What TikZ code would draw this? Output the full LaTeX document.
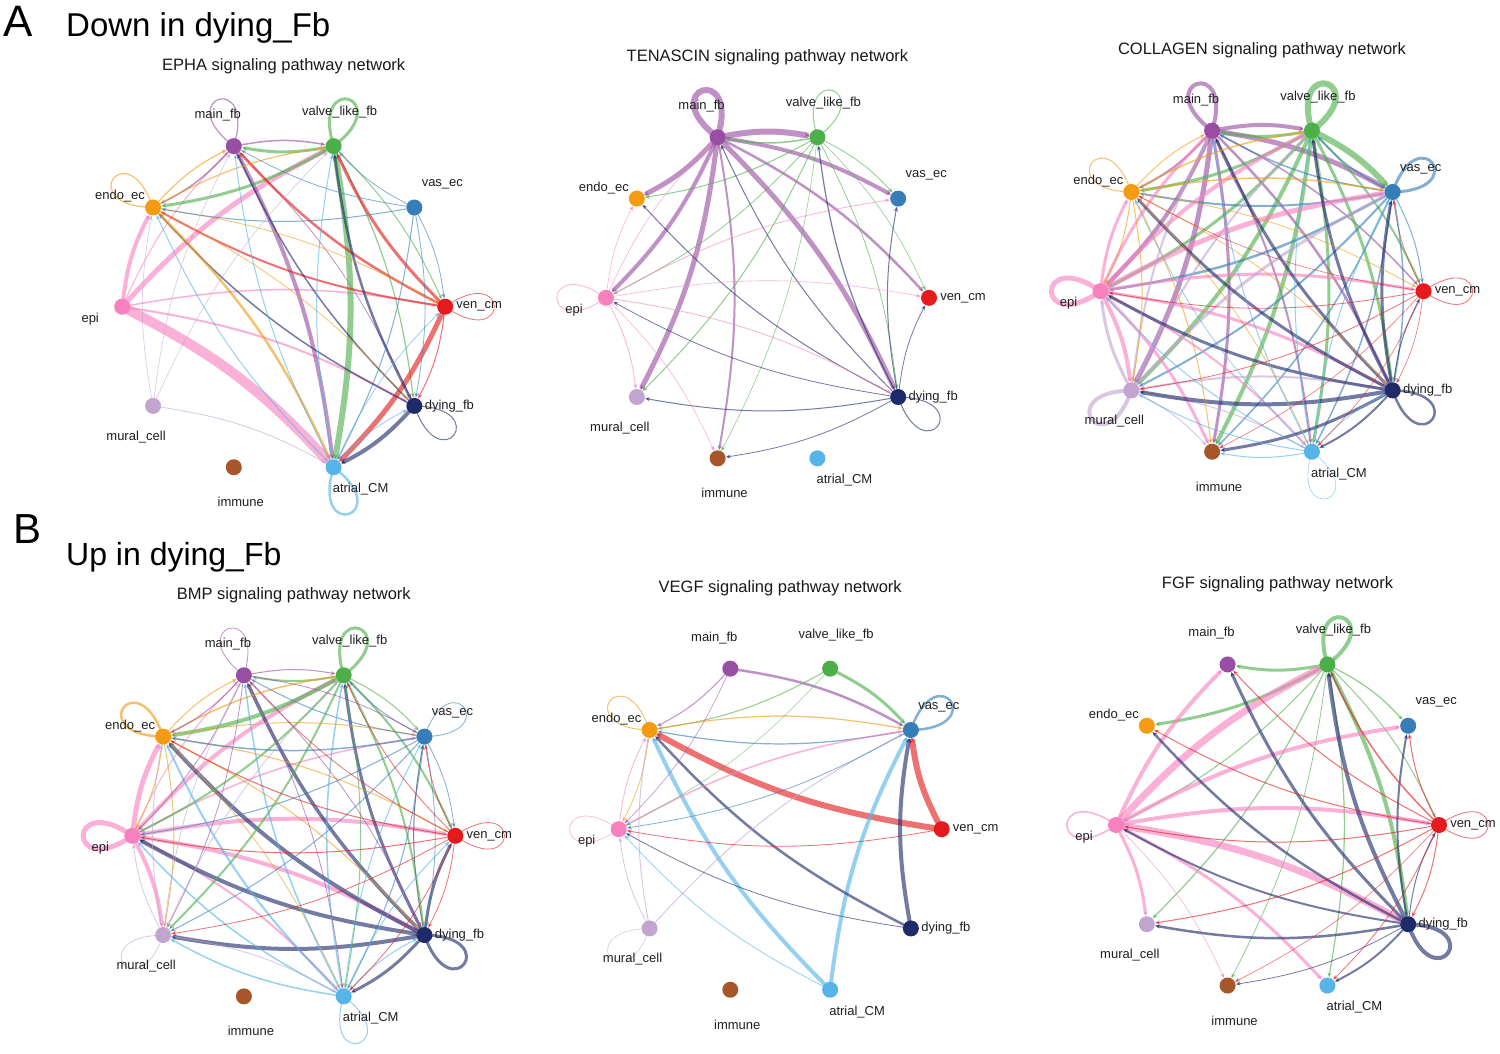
\documentclass[tikz,border=0pt]{standalone}
\usepackage{fontspec}
\setmainfont{Liberation Sans}
\usetikzlibrary{arrows.meta}
\pgfdeclarelayer{bg}
\pgfdeclarelayer{edges}
\pgfsetlayers{bg,edges,main}
\definecolor{cM}{HTML}{984EA3}
\definecolor{cV}{HTML}{4DAF4A}
\definecolor{cS}{HTML}{377EB8}
\definecolor{cR}{HTML}{E41A1C}
\definecolor{cD}{HTML}{1F2A6B}
\definecolor{cA}{HTML}{56B4E9}
\definecolor{cI}{HTML}{A65628}
\definecolor{cU}{HTML}{C2A5CF}
\definecolor{cP}{HTML}{F781BF}
\definecolor{cO}{HTML}{F29B13}
\tikzset{
  nd/.style={circle, minimum size=16pt, inner sep=0pt, draw=none},
  lab/.style={font=\fontsize{13}{15}\selectfont, text=black!88, inner sep=0pt},
  ttl/.style={font=\fontsize{16.5}{19}\selectfont, text=black!90, inner sep=0pt, anchor=base},
  big/.style={inner sep=0pt, anchor=base west, text=black},
  ed/.style={-{Stealth[length=5pt,width=4pt]}, bend left=10, opacity=0.62, line cap=round},
  lp/.style={opacity=0.62, line cap=round}
}
\newcommand\mkpanel[4]{%
  \node[ttl] (#1title) at (#2,{-#3+236.5}) {#4};
  \foreach \k/\ang/\dx/\dy/\txt in {R/0/34/0/ven\_cm,S/36/28/-23/vas\_ec,V/72/6/-34/valve\_like\_fb,M/108/-16/-31/main\_fb,O/144/-33/-11/endo\_ec,P/180/-32/12/epi,U/216/-17/31/mural\_cell,I/252/7/35/immune,A/288/27/22/atrial\_CM,D/324/35/0/dying\_fb}{%
    \node[nd, fill=c\k] (#1\k) at ({#2+161.5*cos(\ang)},{-#3+168.8*sin(\ang)}) {};
    \node[lab] (#1\k-l) at ({#2+161.5*cos(\ang)+(\dx)},{-#3+168.8*sin(\ang)-(\dy)}) {\txt};
  }}
\newcommand\mkedges[2]{%
  \begin{pgfonlayer}{edges}
  \foreach \s/\tg/\w in {#2}{%
    \draw[ed, draw=c\s, line width={\w*1pt}] (#1\s) to (#1\tg);
  }
  \end{pgfonlayer}}
\newcommand\mkloops[2]{%
  \begin{pgfonlayer}{edges}
  \foreach \s/\ang/\w in {#2}{%
    \draw[lp, draw=c\s, line width={\w*1pt}] (#1\s.center) .. controls +({\ang+35}:80) and +({\ang-35}:80) .. (#1\s.center);
  }
  \end{pgfonlayer}}
\begin{document}
\begin{tikzpicture}[x=1pt,y=1pt]
\begin{pgfonlayer}{bg}
\fill[white] (0,0) rectangle (1500,-1054);
\end{pgfonlayer}
\useasboundingbox (0,0) rectangle (1500,-1054);

\node[big, font=\fontsize{44}{50}\selectfont] (labA) at (3,-37) {A};
\node[big, font=\fontsize{33}{38}\selectfont] (hdA) at (66,-37) {Down in dying\_Fb};
\node[big, font=\fontsize{42}{48}\selectfont] (labB) at (13,-543) {B};
\node[big, font=\fontsize{32}{37}\selectfont] (hdB) at (66,-565) {Up in dying\_Fb};

% ---------------- panels ----------------
\mkpanel{a}{283.7}{306.7}{EPHA signaling pathway network}
\mkpanel{b}{767.5}{297.8}{TENASCIN signaling pathway network}
\mkpanel{c}{1262}{291.2}{COLLAGEN signaling pathway network}
\mkpanel{d}{293.8}{835.8}{BMP signaling pathway network}
\mkpanel{e}{780.2}{829.2}{VEGF signaling pathway network}
\mkpanel{f}{1277.5}{825}{FGF signaling pathway network}

% ---------------- EPHA ----------------
\mkloops{a}{M/108/1.2, V/72/3, O/144/1.2, R/0/0.8, D/324/1, A/288/2.5}
\mkedges{a}{P/A/10, P/V/5, P/O/4, P/M/1, P/R/1.5, P/D/2,
  M/V/1.5, M/A/4, M/D/0.8, M/O/1.5,
  V/M/3, V/O/3, V/A/6, V/R/1, V/D/1.2,
  R/M/2.5, R/V/3, R/O/2, R/A/5, R/D/1,
  D/A/4, D/O/1.5, D/V/2.5, D/M/1.5,
  O/M/1.2, O/V/1.2, O/A/2.5, O/R/0.8, O/D/0.8,
  S/O/1, S/M/0.8, S/V/0.8, S/A/1, S/R/0.8, S/D/0.8,
  A/O/1, A/M/1, A/V/1, A/R/0.8, A/D/0.8,
  U/O/0.6, U/M/0.6, U/V/0.6, U/A/0.8}

% ---------------- TENASCIN ----------------
\mkloops{b}{M/108/6, V/72/1, P/180/0.8, D/324/1}
\mkedges{b}{M/V/6, M/O/5, M/P/4, M/U/5, M/I/2, M/D/5, M/S/4, M/R/2.5,
  V/M/1.5, V/O/1, V/P/0.8, V/U/1, V/I/0.6, V/S/0.8, V/R/0.6, V/D/0.8,
  D/M/1, D/V/1.2, D/S/1, D/R/0.8, D/O/1, D/P/0.8, D/U/1, D/I/0.8,
  P/S/0.8, P/R/0.6, P/D/0.8, P/O/0.6, P/U/0.8, P/I/0.6, P/M/0.6}

% ---------------- COLLAGEN ----------------
\mkloops{c}{M/108/4, V/72/6, S/36/3, P/180/5, U/216/4, D/324/2.5, R/0/0.8, O/144/1, A/288/0.6}
\mkedges{c}{M/V/4, M/S/5, M/P/4, M/U/5, M/I/3, M/A/2, M/D/2.5, M/R/1.5, M/O/2,
  V/M/3, V/S/6, V/P/3, V/U/4, V/I/4, V/A/3, V/D/3, V/R/2, V/O/3,
  S/M/1.5, S/V/1.5, S/O/2, S/P/2.5, S/U/2, S/I/1.5, S/A/1.5, S/D/1.5, S/R/1,
  P/S/5, P/V/4, P/M/3, P/R/3, P/D/3, P/U/4, P/I/3, P/A/2, P/O/3,
  U/P/3, U/S/3, U/M/2, U/V/2, U/D/2, U/A/1, U/I/1,
  D/M/3, D/V/3, D/S/3, D/P/3, D/U/4, D/I/3, D/A/2, D/O/3, D/R/1,
  O/M/1, O/V/1.5, O/S/1.5, O/P/1, O/U/1, O/I/1, O/A/0.8, O/D/0.8, O/R/0.8,
  A/M/1, A/V/1, A/S/1, A/P/1, A/U/1, A/I/1, A/D/0.8, A/O/0.8,
  R/P/0.8, R/U/0.8, R/I/0.6, R/A/0.6, R/D/0.6, R/S/0.6, R/O/0.6}

% ---------------- BMP ----------------
\mkloops{d}{M/108/0.8, V/72/3, O/144/2.5, S/36/0.8, P/180/5, R/0/0.8, D/324/3, U/216/0.8, A/288/1}
\mkedges{d}{P/O/5, P/V/4, P/R/4, P/D/4, P/U/4, P/A/2, P/M/1, P/S/1.5,
  D/O/4, D/M/3.5, D/V/3, D/P/4, D/U/4, D/A/3, D/R/3, D/S/1,
  V/O/4, V/M/2, V/P/2, V/U/2, V/D/2, V/R/2, V/S/1, V/A/1,
  O/M/1, O/V/1.5, O/S/1, O/P/1, O/U/1, O/A/0.8, O/D/1, O/R/1,
  S/O/1.5, S/M/1, S/V/1, S/P/1, S/U/1, S/A/1, S/D/0.8, S/R/0.8,
  A/O/2, A/M/1.5, A/V/1.5, A/P/1.5, A/U/1.5, A/S/1, A/R/1, A/D/1,
  R/O/1, R/M/0.8, R/V/0.8, R/P/1, R/U/0.8, R/S/0.8, R/A/0.8, R/D/0.8,
  M/V/1, M/O/1, M/P/0.8, M/U/0.8, M/A/0.8, M/D/0.8, M/S/0.8,
  U/O/0.8, U/M/0.8, U/V/0.8, U/A/0.8, U/P/0.8}

% ---------------- VEGF ----------------
\mkloops{e}{O/144/1, S/36/2.5, P/180/0.6, U/216/0.6}
\mkedges{e}{M/S/2.5, V/S/3, M/O/1, V/O/1, O/S/1.2, S/O/1.2, R/O/6, R/S/6,
  A/O/4, A/S/4, D/O/2.5, D/S/4, P/S/1.5, U/S/1, A/P/0.8, D/P/0.8, R/P/0.8,
  S/P/0.8, V/P/0.5, M/P/0.6, O/P/0.8, U/P/0.8, U/O/1, P/O/0.8}

% ---------------- FGF ----------------
\mkloops{f}{V/72/4, P/180/1.5, R/0/0.8, D/324/4}
\mkedges{f}{V/M/3, V/O/3, V/S/1.2, V/R/1, V/D/4, V/P/1, V/U/1.2, V/I/0.8, V/A/1.2,
  P/M/4, P/V/7, P/S/4, P/R/4, P/D/7, P/U/3, P/A/3, P/I/0.6,
  D/M/3, D/O/2.5, D/V/4, D/S/2, D/R/1, D/P/2, D/U/2.5, D/A/2, D/I/0.8,
  R/M/1, R/O/1, R/S/1, R/V/1.5, R/D/1, R/A/0.8, R/I/0.6, R/U/1, R/P/1}
\end{tikzpicture}
\end{document}
